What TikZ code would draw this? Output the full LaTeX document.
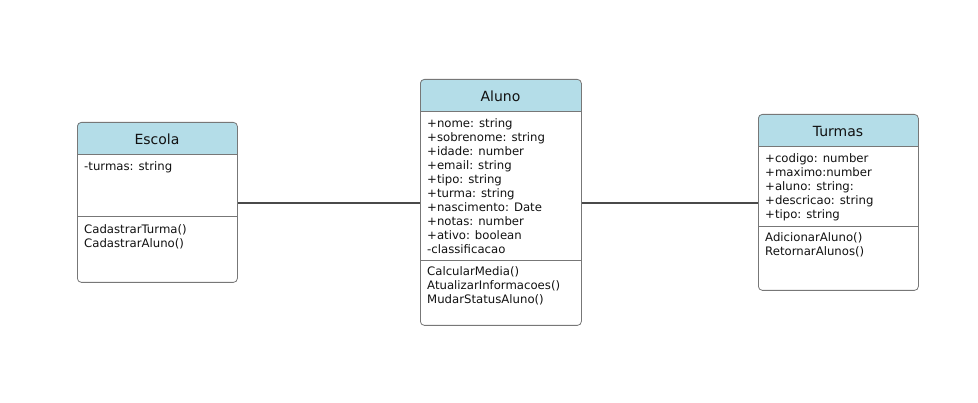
\documentclass[tikz,border=0pt]{standalone}
\usepackage{fontspec}
\setmainfont{DejaVu Sans}
\definecolor{hdr}{HTML}{B4DDE8}
\definecolor{brd}{HTML}{777777}
\definecolor{lnk}{HTML}{4A4A4A}
\definecolor{txt}{HTML}{111111}
\begin{document}
\begin{tikzpicture}[x=1pt,y=-1pt,
  classbox/.style={draw=brd, line width=0.8pt, rounded corners=4pt, inner sep=0pt, anchor=north west},
  sep/.style={draw=brd, line width=0.8pt},
  title/.style={font=\fontsize{14}{16}\selectfont, text=txt, inner sep=0pt},
  members/.style={font=\fontsize{11.7}{14}\selectfont, text=txt, align=left, inner sep=0pt, anchor=north west},
  link/.style={draw=lnk, line width=1.1pt}]
\useasboundingbox (0,0) rectangle (978,403);
% Escola
\begin{scope}
\clip[rounded corners=4pt] (77,122) rectangle (237,282);
\fill[hdr] (77,122) rectangle (237,154);
\end{scope}
\node[classbox, minimum width=160pt, minimum height=160pt] (escola) at (77,122) {};
\draw[sep] (77,154) -- (237,154);
\draw[sep] (77,216) -- (237,216);
\node[title] (escolaT) at (157,139) {Escola};
\node[members] (escolaA) at (84,161) {-turmas: string};
\node[members] (escolaM) at (84,224) {CadastrarTurma()\\CadastrarAluno()};
% Aluno
\begin{scope}
\clip[rounded corners=4pt] (420,79) rectangle (581,325);
\fill[hdr] (420,79) rectangle (581,111);
\end{scope}
\node[classbox, minimum width=161pt, minimum height=246pt] (aluno) at (420,79) {};
\draw[sep] (420,111) -- (581,111);
\draw[sep] (420,260) -- (581,260);
\node[title] (alunoT) at (500.5,96) {Aluno};
\node[members] (alunoA) at (427,118) {+nome: string\\+sobrenome: string\\+idade: number\\+email: string\\+tipo: string\\+turma: string\\+nascimento: Date\\+notas: number\\+ativo: boolean\\-classificacao};
\node[members] (alunoM) at (427,266) {CalcularMedia()\\AtualizarInformacoes()\\MudarStatusAluno()};
% Turmas
\begin{scope}
\clip[rounded corners=4pt] (758,114) rectangle (918,290);
\fill[hdr] (758,114) rectangle (918,146);
\end{scope}
\node[classbox, minimum width=160pt, minimum height=176pt] (turmas) at (758,114) {};
\draw[sep] (758,146) -- (918,146);
\draw[sep] (758,226) -- (918,226);
\node[title] (turmasT) at (838,131) {Turmas};
\node[members] (turmasA) at (765,153) {+codigo: number\\+maximo:number\\+aluno: string:\\+descricao: string\\+tipo: string};
\node[members] (turmasM) at (765,232) {AdicionarAluno()\\RetornarAlunos()};
% links
\draw[link] (escola.east |- 0,203) -- (aluno.west |- 0,203);
\draw[link] (aluno.east |- 0,203) -- (turmas.west |- 0,203);
\end{tikzpicture}
\end{document}
